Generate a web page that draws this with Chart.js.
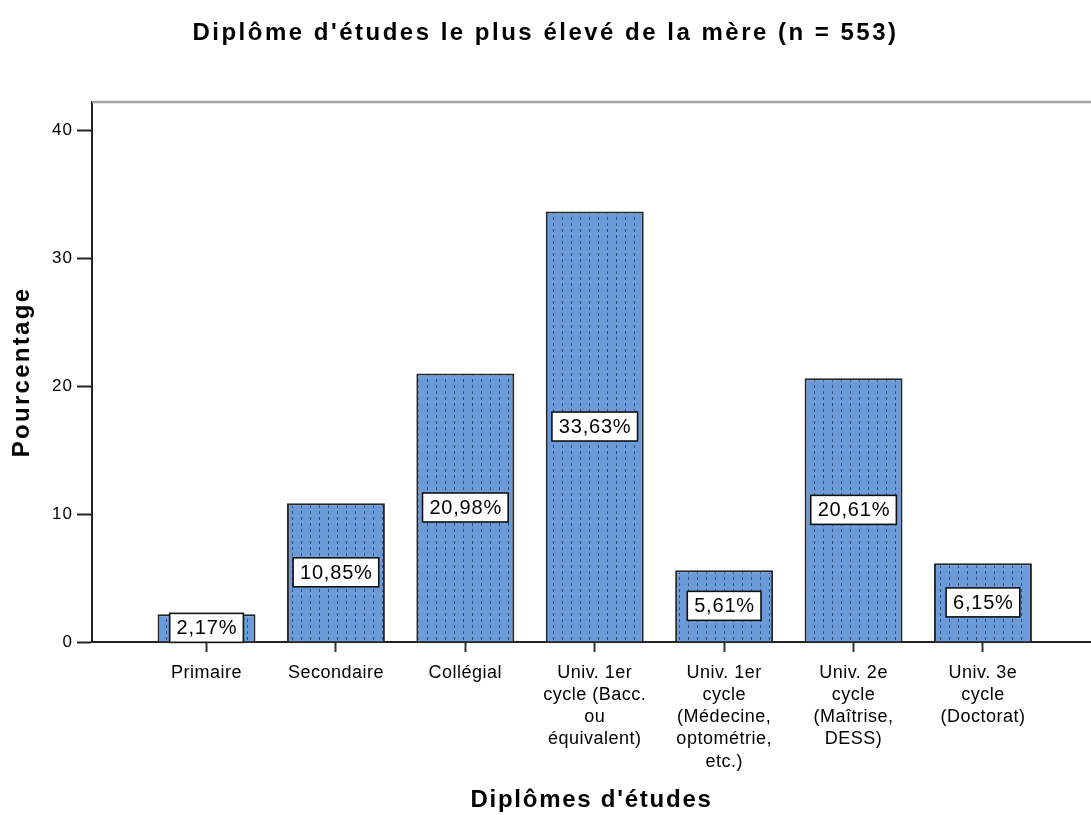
<!DOCTYPE html>
<html><head><meta charset="utf-8">
<script src="https://cdn.jsdelivr.net/npm/chart.js@4"></script>
<style>html,body{margin:0;padding:0;background:#fff;overflow:hidden}#wrap{width:1091px;height:815px}</style>
</head><body><div id="wrap"><canvas id="c" width="1091" height="815"></canvas></div>
<script>
const chartTitle = "Diplôme d'études le plus élevé de la mère (n = 553)";
const xTitle = "Diplômes d'études";
const yTitle = "Pourcentage";
const categories = [["Primaire"],["Secondaire"],["Collégial"],["Univ. 1er","cycle (Bacc.","ou","équivalent)"],["Univ. 1er","cycle","(Médecine,","optométrie,","etc.)"],["Univ. 2e","cycle","(Maîtrise,","DESS)"],["Univ. 3e","cycle","(Doctorat)"]];
const percentages = [2.17,10.85,20.98,33.63,5.61,20.61,6.15];
const yTicks = [0,10,20,30,40];

const FAM = '"Liberation Sans", Arial, sans-serif';
Chart.defaults.font.family = FAM;
Chart.defaults.color = '#000';

function spaced(fn, ls) {
  return function(...args) {
    const c = this.ctx;
    const prev = c.letterSpacing;
    c.letterSpacing = ls;
    try { return fn.apply(this, args); } finally { c.letterSpacing = prev; }
  };
}
function patchScale(s, labelLs, titleLs) {
  if (s._spacedPatched) return;
  s._spacedPatched = true;
  s.drawLabels = spaced(s.drawLabels, labelLs);
  s.drawTitle = spaced(s.drawTitle, titleLs);
}

const canvas = document.getElementById('c');
const ctx = canvas.getContext('2d');
const tile = document.createElement('canvas'); tile.width = 9; tile.height = 6;
const tc = tile.getContext('2d');
tc.fillStyle = '#6b9cd9'; tc.fillRect(0,0,9,6);
tc.fillStyle = '#34517c'; tc.fillRect(4,1,1,3);
const pattern = ctx.createPattern(tile, 'repeat');

const valueLabels = {
  id: 'valueLabels',
  afterDatasetsDraw(chart) {
    const c = chart.ctx;
    const meta = chart.getDatasetMeta(0);
    c.save();
    c.font = '20px ' + FAM;
    c.letterSpacing = '0.8px';
    c.textAlign = 'center';
    c.textBaseline = 'middle';
    meta.data.forEach((bar, i) => {
      const txt = percentages[i].toFixed(2).replace('.', ',') + '%';
      const cy = (bar.y + bar.base) / 2;
      const w = c.measureText(txt).width + 13;
      const h = 29;
      c.fillStyle = '#fff';
      c.fillRect(bar.x - w/2, cy - h/2, w, h);
      c.strokeStyle = '#111';
      c.lineWidth = 1.6;
      c.strokeRect(bar.x - w/2, cy - h/2, w, h);
      c.fillStyle = '#000';
      c.fillText(txt, bar.x + 0.4, cy + 1);
    });
    c.restore();
  }
};
const topBorder = {
  id: 'topBorder',
  beforeDraw(chart) {
    const t = chart.titleBlock;
    if (t && !t._spacedPatched) { t._spacedPatched = true; t.draw = spaced(t.draw, '2.5px'); }
  },
  afterDraw(chart) {
    const a = chart.chartArea, c = chart.ctx;
    c.save();
    c.strokeStyle = '#a3a3a3';
    c.lineWidth = 2.5;
    c.beginPath(); c.moveTo(a.left, a.top); c.lineTo(a.right, a.top); c.stroke();
    c.restore();
  }
};

new Chart(ctx, {
  type: 'bar',
  data: {
    datasets: [{
      data: percentages.map((v, i) => ({x: i, y: v})),
      backgroundColor: pattern,
      borderColor: '#262626',
      borderWidth: 2,
      barPercentage: 0.757,
      categoryPercentage: 1
    }]
  },
  options: {
    responsive: false,
    animation: false,
    layout: {padding: 0},
    plugins: {
      legend: {display: false},
      tooltip: {enabled: false},
      title: {display: true, text: chartTitle, color: '#000',
        font: {size: 24, weight: 'bold'}, padding: {top: 18.6, bottom: 54.6}}
    },
    scales: {
      x: {
        type: 'linear', min: -0.885, max: 6.835, offset: false,
        afterBuildTicks: s => { s.ticks = categories.map((c, i) => ({value: i})); },
        ticks: {callback: v => categories[v], font: {size: 18, lineHeight: 1.23}, color: '#000', padding: 10, maxRotation: 0, autoSkip: false},
        grid: {display: true, offset: false, drawOnChartArea: false, drawTicks: true, tickLength: 10, tickColor: '#333', tickWidth: 2},
        border: {display: true, color: '#222', width: 2},
        title: {display: true, text: xTitle, color: '#000', font: {size: 24, weight: 'bold'}, padding: {top: 0, bottom: 0.6}},
        afterFit: s => { s.height = 815 - 642; patchScale(s, '0.5px', '1.75px'); }
      },
      y: {
        min: 0, max: 42.19,
        afterBuildTicks: s => { s.ticks = yTicks.map(v => ({value: v})); },
        ticks: {font: {size: 17}, color: '#000', padding: 4},
        grid: {display: true, drawOnChartArea: false, tickLength: 15, tickColor: '#222', tickWidth: 2},
        border: {display: true, color: '#222', width: 2},
        title: {display: true, text: yTitle, color: '#000', font: {size: 24, weight: 'bold'}, padding: {top: 7.6, bottom: 0}},
        afterFit: s => { s.width = 92; patchScale(s, '1px', '2.3px'); }
      }
    }
  },
  plugins: [valueLabels, topBorder]
});
</script></body></html>
